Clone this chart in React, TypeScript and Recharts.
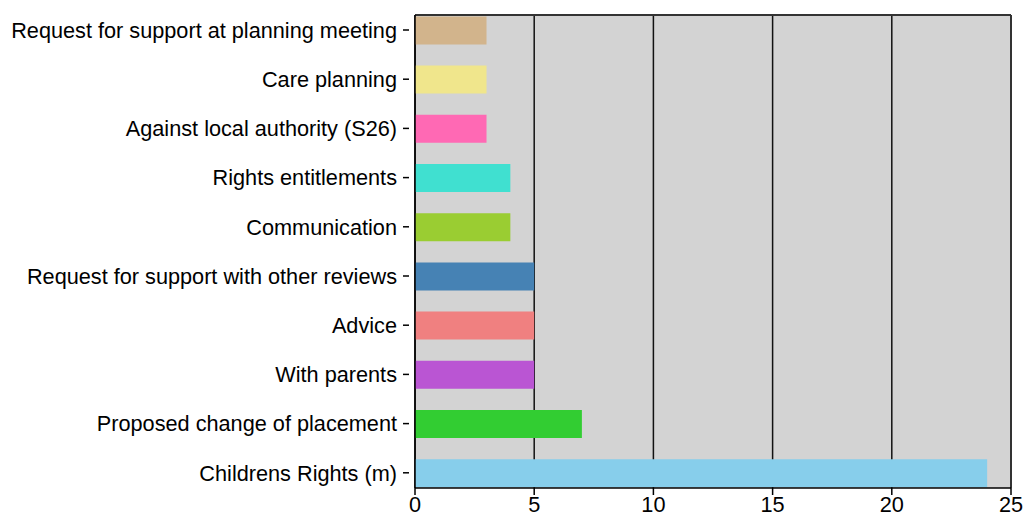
import React from 'react';
import { BarChart, Bar, XAxis, YAxis, CartesianGrid, Cell, ReferenceLine } from 'recharts';

const categories = [
  'Request for support at planning meeting',
  'Care planning',
  'Against local authority (S26)',
  'Rights entitlements',
  'Communication',
  'Request for support with other reviews',
  'Advice',
  'With parents',
  'Proposed change of placement',
  'Childrens Rights (m)',
];
const counts = [3, 3, 3, 4, 4, 5, 5, 5, 7, 24];
const xTicks = [0, 5, 10, 15, 20, 25];

const palette = [
  '#D2B48C', '#F0E68C', '#FF69B4', '#40E0D0', '#9ACD32',
  '#4682B4', '#F08080', '#BA55D3', '#32CD32', '#87CEEB',
];

const data = categories.map((name, i) => ({ name, value: counts[i] }));

const FONT = '"Liberation Sans", Arial, sans-serif';

const YTick = ({ x, y, payload }: any) => (
  <g>
    <line x1={x - 12} x2={x - 6} y1={y} y2={y} stroke="#000" strokeWidth={1.5} />
    <text x={x - 18} y={y} dy="0.355em" textAnchor="end" fontSize={21.7} fontFamily={FONT} fill="#000">
      {payload.value}
    </text>
  </g>
);

export default function App() {
  return (
    <div style={{ position: 'absolute', left: 0, top: 0, background: '#fff' }}>
      <BarChart
        width={1024}
        height={514}
        data={data}
        layout="vertical"
        margin={{ top: 14, right: 13, bottom: 0, left: 0 }}
      >
        <CartesianGrid
          fill="#D3D3D3"
          horizontal={false}
          stroke="#111"
          strokeWidth={1.5}
          verticalValues={xTicks}
        />
        <XAxis
          type="number"
          domain={[0, 25]}
          ticks={xTicks}
          height={26}
          tickSize={7}
          tickMargin={2}
          axisLine={{ stroke: '#000', strokeWidth: 1.5 }}
          tickLine={{ stroke: '#000', strokeWidth: 1.5 }}
          tick={{ fontSize: 21.7, fontFamily: FONT, fill: '#000' }}
        />
        <XAxis
          xAxisId="top"
          orientation="top"
          type="number"
          domain={[0, 25]}
          height={1}
          tick={false}
          tickLine={false}
          axisLine={{ stroke: '#333', strokeWidth: 2 }}
        />
        <YAxis
          type="category"
          dataKey="name"
          width={415}
          tickSize={0}
          tickMargin={0}
          tickLine={false}
          interval={0}
          padding={{ top: -9.6, bottom: -9.4 }}
          axisLine={{ stroke: '#000', strokeWidth: 1.5 }}
          tick={<YTick />}
        />
        <ReferenceLine x={25} stroke="#333" strokeWidth={2} />
        <Bar dataKey="value" barSize={28} isAnimationActive={false}>
          {data.map((d, i) => (
            <Cell key={d.name} fill={palette[i]} />
          ))}
        </Bar>
      </BarChart>
    </div>
  );
}
